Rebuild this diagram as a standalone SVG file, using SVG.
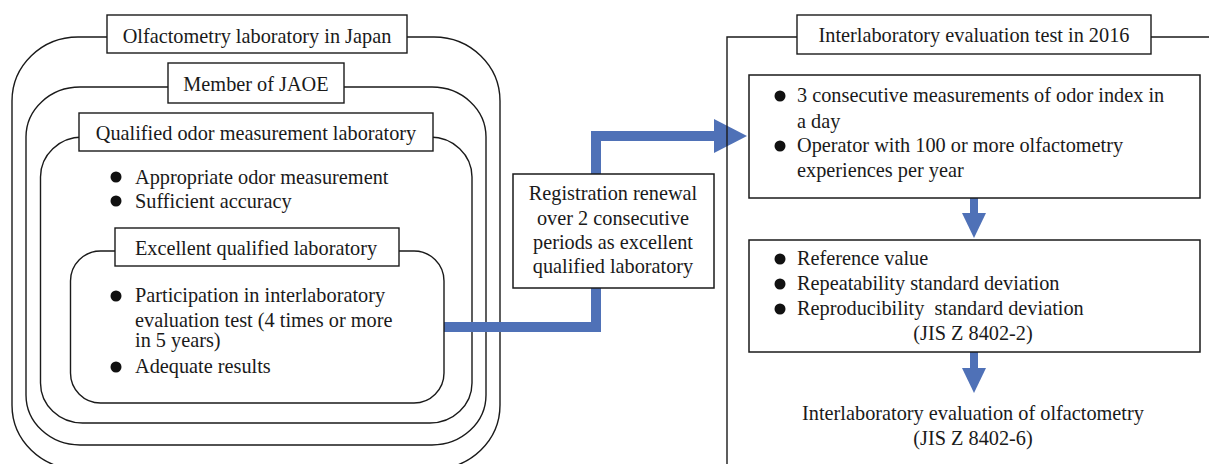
<svg xmlns="http://www.w3.org/2000/svg" width="1209" height="464" viewBox="0 0 1209 464">
<style>
text{font-family:"Liberation Serif","Times New Roman",serif;font-size:20.3px;fill:#1a1a1a}
.c{text-anchor:middle}
.frame{fill:none;stroke:#1a1a1a;stroke-width:1.4}
.lbl{fill:#fff;stroke:#1a1a1a;stroke-width:1.4}
.box{fill:#fff;stroke:#1a1a1a;stroke-width:1.5}
.blue{fill:#4f71b7}
.bl{fill:none;stroke:#4f71b7}
circle{fill:#111}
</style>
<rect width="1209" height="464" fill="#fff"/>
<g id="olfactometry-japan">
<rect class="frame" x="12" y="37" width="488" height="432" rx="66" ry="64"/>
<rect class="lbl" x="107" y="15" width="300" height="38"/>
<text class="c" x="257" y="43">Olfactometry laboratory in Japan</text>
</g>
<g id="member-jaoe">
<rect class="frame" x="26" y="87" width="460" height="358" rx="54" ry="50"/>
<rect class="lbl" x="168" y="63" width="176" height="40"/>
<text class="c" x="256" y="91">Member of JAOE</text>
</g>
<g id="qualified-lab">
<rect class="frame" x="40.5" y="137" width="431.5" height="286" rx="42" ry="40"/>
<rect class="lbl" x="79" y="113" width="354" height="38"/>
<text class="c" x="256" y="140">Qualified odor measurement laboratory</text>
<circle cx="116" cy="177" r="5.5"/>
<text x="135" y="184">Appropriate odor measurement</text>
<circle cx="116" cy="201" r="5.5"/>
<text x="135" y="208">Sufficient accuracy</text>
</g>
<g id="connectors">
<path class="bl" d="M444,327 H596 V136 H716" stroke-width="10"/>
<polygon class="blue" points="714,119 747,136 714,153"/>
<rect class="blue" x="970" y="198" width="8" height="16"/>
<polygon class="blue" points="962,213 986,213 974,238"/>
<rect class="blue" x="970" y="352" width="8" height="17"/>
<polygon class="blue" points="962,368 986,368 974,393"/>
</g>
<g id="excellent-lab">
<rect class="frame" x="70.5" y="251" width="373.5" height="152" rx="30" ry="30"/>
<rect class="lbl" x="115" y="228" width="284" height="38"/>
<text class="c" x="256" y="255">Excellent qualified laboratory</text>
<circle cx="116" cy="296" r="5.5"/>
<text x="135" y="302">Participation in interlaboratory</text>
<text x="135" y="327">evaluation test (4 times or more</text>
<text x="135" y="347">in 5 years)</text>
<circle cx="116" cy="367" r="5.5"/>
<text x="135" y="373">Adequate results</text>
</g>
<g id="registration">
<rect class="box" x="513" y="174" width="201" height="114"/>
<text class="c" x="613" y="200">Registration renewal</text>
<text class="c" x="613" y="225">over 2 consecutive</text>
<text class="c" x="613" y="249">periods as excellent</text>
<text class="c" x="613" y="273">qualified laboratory</text>
</g>
<g id="interlab-2016">
<path class="frame" d="M727,470 V37 H1215"/>
<rect class="lbl" x="797" y="15" width="354" height="39"/>
<text class="c" x="974" y="42">Interlaboratory evaluation test in 2016</text>
</g>
<g id="conditions">
<rect class="box" x="749" y="75" width="451" height="123"/>
<circle cx="780" cy="96" r="5.5"/>
<text x="797" y="102">3 consecutive measurements of odor index in</text>
<text x="797" y="128">a day</text>
<circle cx="780" cy="146" r="5.5"/>
<text x="797" y="152">Operator with 100 or more olfactometry</text>
<text x="797" y="177">experiences per year</text>
</g>
<g id="statistics">
<rect class="box" x="749" y="240" width="451" height="112"/>
<circle cx="780" cy="259" r="5.5"/>
<text x="797" y="265">Reference value</text>
<circle cx="780" cy="284" r="5.5"/>
<text x="797" y="290">Repeatability standard deviation</text>
<circle cx="780" cy="309" r="5.5"/>
<text x="797" y="315" xml:space="preserve">Reproducibility  standard deviation</text>
<text class="c" x="973" y="340">(JIS Z 8402-2)</text>
</g>
<g id="result">
<text class="c" x="973" y="420">Interlaboratory evaluation of olfactometry</text>
<text class="c" x="973" y="445">(JIS Z 8402-6)</text>
</g>
</svg>
